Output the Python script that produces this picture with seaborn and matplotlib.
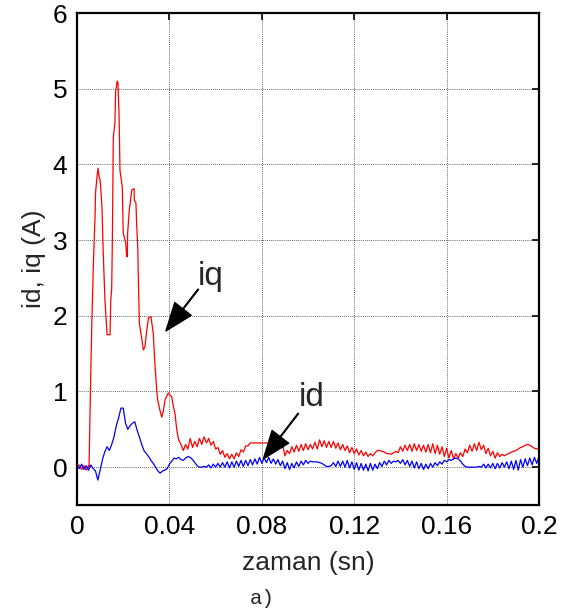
import numpy as np
import pandas as pd
import matplotlib
matplotlib.use("Agg")
import matplotlib.pyplot as plt
import seaborn as sns

# ---------------- data ----------------
# iq: early transient (non-uniform time samples)
t_iq_early = [0.000, 0.001, 0.002, 0.003, 0.004, 0.005, 0.0052, 0.0058, 0.0064, 0.0071,
              0.0078, 0.0080, 0.0087, 0.0091, 0.0096, 0.0100, 0.0108, 0.0113, 0.0121, 0.0130,
              0.0143, 0.0146, 0.0150, 0.0153, 0.0157, 0.0164, 0.0167, 0.0174, 0.0177, 0.0182,
              0.0186, 0.0196, 0.0200, 0.0211, 0.0215, 0.0218, 0.0219, 0.0226, 0.0237, 0.0247,
              0.0248, 0.0255, 0.0258, 0.0263, 0.0265, 0.0270, 0.0280, 0.0287, 0.0294, 0.0302,
              0.0309, 0.0320, 0.0330, 0.0338, 0.0345, 0.0349, 0.0359, 0.0367, 0.0374, 0.0381,
              0.0395, 0.0403, 0.0410, 0.0417, 0.0424, 0.0432, 0.0440]
iq_early = [0.00, 0.03, -0.03, 0.02, -0.04, 0.02, 0.00, 1.00, 1.90, 2.70,
            3.30, 3.62, 3.85, 3.95, 3.82, 3.80, 3.44, 2.87, 2.20, 1.75,
            1.75, 2.20, 2.35, 3.00, 4.36, 4.54, 4.96, 5.10, 5.08, 4.65,
            3.92, 3.70, 3.09, 2.96, 2.78, 2.78, 3.09, 3.39, 3.66, 3.68,
            3.53, 3.49, 3.22, 2.90, 2.56, 1.90, 1.70, 1.55, 1.59, 1.81,
            1.97, 1.99, 1.77, 1.32, 1.02, 0.89, 0.75, 0.66, 0.75, 0.89,
            0.98, 0.95, 0.93, 0.80, 0.71, 0.49, 0.36]

# iq: steady part, 0.045 .. 0.200 s every 1 ms
t_iq_late = [round(0.045 + 0.001 * k, 3) for k in range(156)]
iq_late = [0.30, 0.22, 0.30, 0.24, 0.38, 0.26, 0.34, 0.27, 0.38, 0.30,
           0.40, 0.32, 0.38, 0.29, 0.34, 0.24, 0.26, 0.17, 0.22, 0.13,
           0.18, 0.11, 0.17, 0.11, 0.19, 0.14, 0.23, 0.20, 0.28, 0.28,
           0.32, 0.32, 0.32, 0.32, 0.32, 0.32, 0.32, 0.32, 0.32, 0.32,
           0.32, 0.32, 0.32, 0.32, 0.30, 0.15, 0.22, 0.18, 0.27, 0.20,
           0.29, 0.21, 0.30, 0.22, 0.31, 0.23, 0.30, 0.24, 0.33, 0.24,
           0.36, 0.27, 0.35, 0.26, 0.34, 0.26, 0.34, 0.25, 0.32, 0.23,
           0.30, 0.22, 0.28, 0.19, 0.26, 0.18, 0.24, 0.16, 0.22, 0.15,
           0.20, 0.14, 0.18, 0.15, 0.19, 0.22, 0.22, 0.21, 0.20, 0.18,
           0.18, 0.17, 0.19, 0.21, 0.19, 0.27, 0.21, 0.29, 0.22, 0.30,
           0.21, 0.31, 0.22, 0.30, 0.21, 0.29, 0.20, 0.30, 0.19, 0.31,
           0.18, 0.29, 0.17, 0.27, 0.14, 0.25, 0.12, 0.22, 0.11, 0.18,
           0.12, 0.19, 0.14, 0.24, 0.19, 0.29, 0.21, 0.31, 0.22, 0.33,
           0.23, 0.29, 0.18, 0.25, 0.15, 0.21, 0.12, 0.19, 0.14, 0.17,
           0.15, 0.17, 0.18, 0.20, 0.21, 0.22, 0.24, 0.26, 0.27, 0.29,
           0.30, 0.29, 0.27, 0.25, 0.24, 0.25]

# id: 0 .. 0.200 s every 1 ms
t_id = [round(0.001 * k, 3) for k in range(201)]
id_vals = [0.03, -0.02, 0.04, -0.03, 0.02, -0.04, 0.03, -0.02, -0.05, -0.17,
           -0.04, 0.10, 0.20, 0.27, 0.22, 0.30, 0.40, 0.55, 0.65, 0.78,
           0.78, 0.58, 0.50, 0.55, 0.58, 0.60, 0.49, 0.40, 0.30, 0.22,
           0.18, 0.14, 0.09, 0.05, 0.00, -0.05, -0.08, -0.05, -0.04, -0.02,
           0.04, 0.08, 0.12, 0.11, 0.13, 0.10, 0.09, 0.12, 0.14, 0.13,
           0.10, 0.06, 0.02, 0.00, 0.00, 0.01, 0.00, 0.03, -0.01, 0.04,
           0.00, 0.05, 0.00, 0.06, 0.00, 0.07, -0.01, 0.07, 0.00, 0.08,
           0.01, 0.09, 0.01, 0.09, 0.02, 0.10, 0.03, 0.11, 0.04, 0.13,
           0.05, 0.12, 0.06, 0.13, 0.05, 0.11, 0.04, 0.10, 0.02, 0.08,
           -0.02, 0.06, -0.03, 0.05, -0.01, 0.07, 0.01, 0.08, 0.03, 0.09,
           0.05, 0.08, 0.07, 0.07, 0.07, 0.06, 0.05, 0.03, 0.01, 0.01,
           0.02, 0.06, 0.01, 0.08, 0.01, 0.08, 0.00, 0.09, -0.01, 0.07,
           -0.03, 0.06, -0.04, 0.05, -0.04, 0.04, -0.05, 0.05, -0.04, 0.04,
           -0.02, 0.06, 0.01, 0.08, 0.03, 0.09, 0.05, 0.08, 0.07, 0.09,
           0.05, 0.10, 0.03, 0.09, 0.01, 0.08, -0.01, 0.07, -0.02, 0.05,
           -0.03, 0.04, -0.02, 0.05, 0.00, 0.06, 0.02, 0.07, 0.04, 0.09,
           0.07, 0.10, 0.09, 0.11, 0.12, 0.11, 0.08, 0.04, 0.01, 0.00,
           0.00, 0.00, 0.00, 0.00, 0.01, 0.00, 0.04, -0.01, 0.04, -0.01,
           0.05, -0.02, 0.05, -0.01, 0.06, 0.00, 0.07, -0.02, 0.08, -0.03,
           0.09, -0.04, 0.10, 0.00, 0.11, 0.02, 0.12, 0.03, 0.13, 0.05,
           0.14]

x_ticks = [0, 0.04, 0.08, 0.12, 0.16, 0.2]
x_tick_labels = ["0", "0.04", "0.08", "0.12", "0.16", "0.2"]
y_ticks = [0, 1, 2, 3, 4, 5, 6]
y_tick_labels = ["0", "1", "2", "3", "4", "5", "6"]

# ---------------- plot ----------------
sns.set_style("white")
plt.rcParams["font.family"] = ["Liberation Sans", "DejaVu Sans"]

fig = plt.figure(figsize=(5.68, 6.14), dpi=100)
ax = fig.add_axes([0.1356, 0.1775, 0.8134, 0.8013])

df_iq = pd.DataFrame({"t": t_iq_early + t_iq_late, "v": iq_early + iq_late})
df_id = pd.DataFrame({"t": t_id, "v": id_vals})

sns.lineplot(data=df_iq, x="t", y="v", ax=ax, color="#ff0000", linewidth=0.9,
             estimator=None, sort=False)
sns.lineplot(data=df_id, x="t", y="v", ax=ax, color="#0000ff", linewidth=0.9,
             estimator=None, sort=False)

ax.set_xlim(0, 0.2)
ax.set_ylim(-0.5, 6)
ax.set_xticks(x_ticks)
ax.set_xticklabels(x_tick_labels)
ax.set_yticks(y_ticks)
ax.set_yticklabels(y_tick_labels)
ax.tick_params(direction="in", length=5, width=1.2, top=True, right=True,
               labelsize=19, pad=7, colors="black")
ax.grid(True, color="#333333", linestyle=(0, (1, 1.5)), linewidth=0.6)
for s in ax.spines.values():
    s.set_color("black")
    s.set_linewidth(1.6)
    s.set_visible(True)

ax.set_xlabel("zaman (sn)", fontsize=19, labelpad=9)
ax.set_ylabel("id, iq (A)", fontsize=19, labelpad=5)

# annotations
arrow_kw = dict(facecolor="black", edgecolor="black", width=0.5,
                headwidth=15, headlength=20, shrink=0.0)
ax.annotate("", xy=(0.0385, 1.80), xytext=(0.0525, 2.35), arrowprops=arrow_kw)
ax.text(0.0578, 2.52, "iq", fontsize=24, ha="center", va="center")
ax.annotate("", xy=(0.0807, 0.11), xytext=(0.0958, 0.71), arrowprops=arrow_kw)
ax.text(0.1018, 0.92, "id", fontsize=24, ha="center", va="center")

fig.text(0.461, 0.026, "a)", fontsize=15, ha="center", va="center",
         family=["Liberation Mono", "DejaVu Sans Mono"])

fig.savefig("out.png", dpi=100)
